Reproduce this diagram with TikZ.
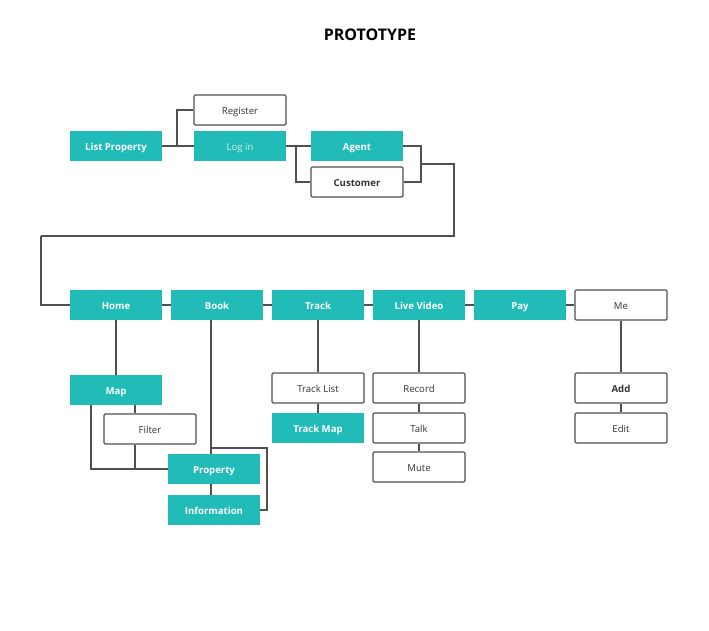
\documentclass[tikz,border=0pt]{standalone}
\usepackage{fontspec}
\setmainfont{Open Sans}
\definecolor{tealbox}{RGB}{34,188,184}
\definecolor{linegray}{RGB}{80,80,80}
\definecolor{softtext}{RGB}{205,240,238}
\newcommand{\boxfont}{\fontsize{9.6}{11}\selectfont}
\tikzset{
  screen/.style={minimum width=92pt, minimum height=30pt, inner sep=0pt,
    text height=9.5pt, text depth=1pt, font=\boxfont},
  tealscreen/.style={screen, fill=tealbox, text=white, font=\boxfont\bfseries},
  plainscreen/.style={screen, draw=linegray, line width=1.2pt, rounded corners=1.2pt, text=black!80},
  link/.style={draw=linegray, line width=1.2pt}
}
\begin{document}
\begin{tikzpicture}[x=1pt,y=-1pt]
\useasboundingbox[fill=white] (0,0) rectangle (709,630);

\node[font=\fontsize{16}{18}\selectfont\bfseries] (title) at (370,35) {PROTOTYPE};

% log in part
\node[tealscreen] (lp) at (116,146) {List Property};
\node[plainscreen] (reg) at (240,110) {Register};
\node[tealscreen, text=softtext, font=\boxfont] (login) at (240,146) {Log in};
\node[tealscreen] (agent) at (357,146) {Agent};
\node[plainscreen, font=\boxfont\bfseries] (cust) at (357,182) {Customer};

\coordinate (jlp) at (177,146);
\coordinate (jlog) at (296,146);
\coordinate (jag) at (421,164);
\coordinate (jtop) at (454,236);
\coordinate (jleft) at (41,236);

\draw[link] (lp.east) -- (login.west);
\draw[link] (jlp) |- (reg.west);
\draw[link] (login.east) -- (agent.west);
\draw[link] (jlog) |- (cust.west);
\draw[link] (agent.east) -| (jag) |- (cust.east);
\draw[link] (jag) -| (jtop) -- (jleft);

% main menu
\node[tealscreen] (home) at (116,305) {Home};
\node[tealscreen] (book) at (217,305) {Book};
\node[tealscreen] (track) at (318,305) {Track};
\node[tealscreen] (video) at (419,305) {Live Video};
\node[tealscreen] (pay) at (520,305) {Pay};
\node[plainscreen] (me) at (621,305) {Me};

\draw[link] (jleft) |- (home.west);
\foreach \a/\b in {home/book,book/track,track/video,video/pay,pay/me}
  \draw[link] (\a.east) -- (\b.west);

% home and book
\node[tealscreen] (map) at (116,390) {Map};
\node[plainscreen] (filter) at (150,429) {Filter};
\node[tealscreen] (prop) at (214,469) {Property};
\node[tealscreen] (info) at (214,510) {Information};

\coordinate (jml) at (91,469);
\coordinate (jmf) at (135,469);
\coordinate (jbk) at (211,448);
\coordinate (jbr) at (267,448);

\draw[link] (home.south) -- (map.north);
\draw[link] (jmf |- map.south) -- (jmf |- filter.north);
\draw[link] (jml |- map.south) -- (jml) -- (prop.west);
\draw[link] (jmf |- filter.south) -- (jmf);
\draw[link] (jbk |- book.south) -- (jbk |- prop.north);
\draw[link] (jbk) -- (jbr) |- (info.east);
\draw[link] (jbk |- prop.south) -- (jbk |- info.north);

% track
\node[plainscreen] (tlist) at (318,388) {Track List};
\node[tealscreen] (tmap) at (318,428) {Track Map};
\draw[link] (track.south) -- (tlist.north);
\draw[link] (tlist.south) -- (tmap.north);

% live video
\node[plainscreen] (rec) at (419,388) {Record};
\node[plainscreen] (talk) at (419,428) {Talk};
\node[plainscreen] (mute) at (419,467) {Mute};
\draw[link] (video.south) -- (rec.north);
\draw[link] (rec.south) -- (talk.north);
\draw[link] (talk.south) -- (mute.north);

% me
\node[plainscreen, font=\boxfont\bfseries] (add) at (621,388) {Add};
\node[plainscreen] (edit) at (621,428) {Edit};
\draw[link] (me.south) -- (add.north);
\draw[link] (add.south) -- (edit.north);
\end{tikzpicture}
\end{document}
